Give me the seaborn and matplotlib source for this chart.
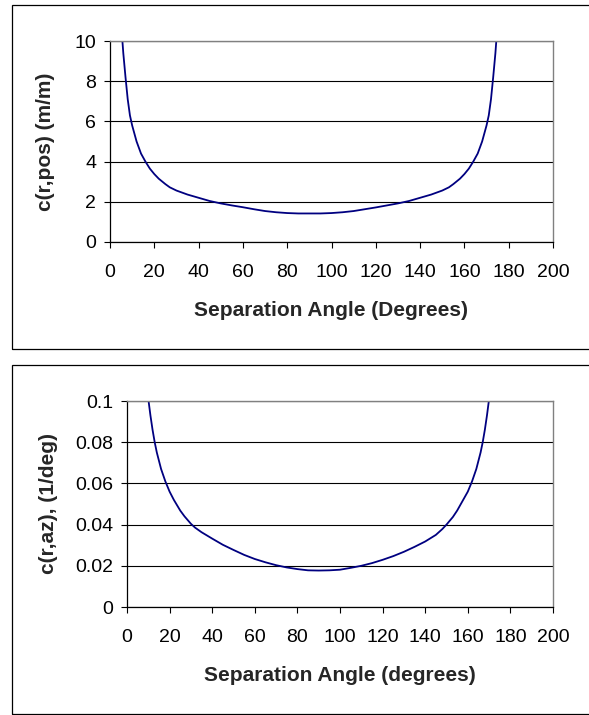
import matplotlib
matplotlib.use("Agg")
import matplotlib.pyplot as plt
import seaborn as sns
import pandas as pd
from matplotlib.patches import Rectangle

# --- data ---
angles_pos = [5, 6, 7, 8, 9, 10, 12, 14, 16, 18, 20, 22, 25, 27, 30, 35, 40, 45, 50, 55, 60,
              65, 70, 75, 80, 85, 90, 95, 100, 105, 110, 115, 120, 125, 130, 135, 140, 145,
              150, 153, 155, 158, 160, 162, 164, 166, 168, 170, 171, 172, 173, 174, 175]
c_pos = [10.9, 9.4, 8.2, 7.1, 6.3, 5.8, 5.0, 4.4, 4.0, 3.65, 3.38, 3.15, 2.88, 2.72, 2.56,
         2.36, 2.2, 2.04, 1.92, 1.82, 1.73, 1.63, 1.54, 1.48, 1.44, 1.42, 1.42, 1.42, 1.44,
         1.48, 1.54, 1.63, 1.72, 1.82, 1.92, 2.04, 2.2, 2.36, 2.56, 2.72, 2.88, 3.15, 3.38,
         3.65, 4.0, 4.4, 5.0, 5.8, 6.3, 7.1, 8.2, 9.4, 10.9]

angles_az = [9, 10, 11, 12, 13, 14, 15, 16, 18, 20, 22, 25, 27, 30, 32, 35, 40, 45, 50, 55,
             60, 65, 70, 75, 80, 85, 90, 95, 100, 105, 110, 115, 120, 125, 130, 135, 140,
             145, 148, 150, 153, 155, 160, 162, 164, 165, 166, 167, 168, 169, 170, 171]
c_az = [0.113, 0.101, 0.093, 0.086, 0.080, 0.075, 0.071, 0.067, 0.061, 0.056, 0.052, 0.0468,
        0.0440, 0.0404, 0.0385, 0.0363, 0.0332, 0.0302, 0.0277, 0.0253, 0.0233, 0.0217,
        0.0203, 0.0192, 0.0184, 0.0178, 0.0177, 0.0178, 0.0181, 0.0190, 0.0200, 0.0213,
        0.0229, 0.0247, 0.0268, 0.0292, 0.0318, 0.0350, 0.0378, 0.0400, 0.0437, 0.0468,
        0.0560, 0.0610, 0.0670, 0.0710, 0.0750, 0.0800, 0.0860, 0.0930, 0.1010, 0.1130]

x_ticks = [0, 20, 40, 60, 80, 100, 120, 140, 160, 180, 200]
pos_ticks = [0, 2, 4, 6, 8, 10]
az_ticks = [0, 0.02, 0.04, 0.06, 0.08, 0.1]
az_tick_labels = ["0", "0.02", "0.04", "0.06", "0.08", "0.1"]

sns.set_style("white")
plt.rcParams["font.family"] = ["Liberation Sans", "DejaVu Sans"]

W, H = 589, 715
fig = plt.figure(figsize=(W / 100, H / 100), dpi=100)


def px_axes(left, top, right, bottom):
    return fig.add_axes([left / W, 1 - bottom / H, (right - left) / W, (bottom - top) / H])


def style_axes(ax, yticks, ylim, ylabel, xlabel, label_x_px, left_px, width_px):
    ax.set_xlim(0, 200)
    ax.set_ylim(*ylim)
    ax.set_xticks(x_ticks)
    ax.set_yticks(yticks)
    ax.grid(axis="y", color="black", linewidth=0.8)
    ax.grid(axis="x", visible=False)
    for side in ["top", "right"]:
        ax.spines[side].set_color("#808080")
        ax.spines[side].set_linewidth(1.0)
    for side in ["left", "bottom"]:
        ax.spines[side].set_color("black")
        ax.spines[side].set_linewidth(0.9)
    ax.tick_params(axis="both", direction="out", length=4, width=0.8, colors="black",
                   labelsize=14, left=True, bottom=True)
    ax.tick_params(axis="y", pad=6)
    ax.tick_params(axis="x", pad=12)
    ax.set_xlabel(xlabel, fontsize=15, fontweight="bold", labelpad=14)
    ax.set_ylabel(ylabel, fontsize=15, fontweight="bold")
    ax.yaxis.set_label_coords((label_x_px - left_px) / width_px, 0.5)


# top panel
fig.add_artist(Rectangle((12 / W, 1 - 349 / H), (W + 10) / W, (349 - 5) / H,
                         transform=fig.transFigure, fill=False, edgecolor="black",
                         linewidth=0.9, clip_on=False))
ax1 = px_axes(110, 41, 553, 242)
df_pos = pd.DataFrame({"angle": angles_pos, "c": c_pos})
sns.lineplot(data=df_pos, x="angle", y="c", ax=ax1, color="#000080", linewidth=1.3,
             estimator=None, sort=False)
style_axes(ax1, pos_ticks, (0, 10), "c(r,pos) (m/m)", "Separation Angle (Degrees)",
           55, 110, 443)

# bottom panel
fig.add_artist(Rectangle((12 / W, 1 - 714 / H), (W + 10) / W, (714 - 365) / H,
                         transform=fig.transFigure, fill=False, edgecolor="black",
                         linewidth=0.9, clip_on=False))
ax2 = px_axes(127, 401, 553, 607)
df_az = pd.DataFrame({"angle": angles_az, "c": c_az})
sns.lineplot(data=df_az, x="angle", y="c", ax=ax2, color="#000080", linewidth=1.3,
             estimator=None, sort=False)
style_axes(ax2, az_ticks, (0, 0.1), "c(r,az), (1/deg)", "Separation Angle (degrees)",
           58, 127, 426)
ax2.set_yticklabels(az_tick_labels)

fig.savefig("out.png", dpi=100)
